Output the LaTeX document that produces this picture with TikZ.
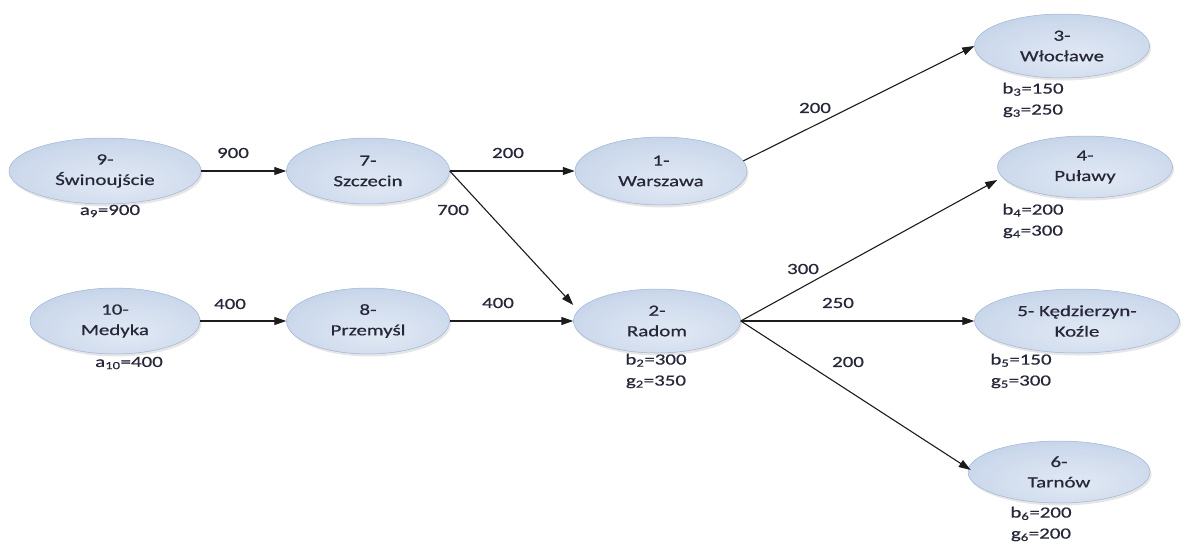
\documentclass[tikz,border=0pt]{standalone}
\usepackage{fontspec}
\setmainfont{Carlito}[FakeStretch=1.35,FakeBold=0.6]
\usetikzlibrary{arrows.meta,shapes.geometric,shadows}
\definecolor{ellA}{HTML}{E2E9F4}
\definecolor{ellB}{HTML}{CCD9EC}
\definecolor{ellC}{HTML}{AABFDD}
\definecolor{ellD}{HTML}{9FB5D4}
\definecolor{txt}{HTML}{26283A}
\definecolor{edgecol}{HTML}{1C1C1C}
\pgfdeclareradialshading{ellsh}{\pgfpoint{4bp}{-10bp}}{color(0bp)=(ellA); color(26bp)=(ellB); color(50bp)=(ellC); color(60bp)=(ellC)}
\begin{document}
\begin{tikzpicture}[x=1pt,y=-1pt,
  every node/.style={text=txt, font=\fontsize{15.5}{20.5}\selectfont},
  city/.style={ellipse, shading=ellsh, draw=ellD, line width=0.5pt, inner sep=0pt, align=center,
    drop shadow={opacity=0.2, shadow xshift=1.5pt, shadow yshift=-2.5pt}},
  flow/.style={draw=edgecol, line width=1.1pt, -{Triangle[length=12pt,width=8pt]}},
  val/.style={inner sep=1pt},
  info/.style={align=center, inner sep=0pt, font=\fontsize{15.5}{21}\selectfont}]
\useasboundingbox (0,0) rectangle (1186,544);
% cities
\node[city, minimum width=192pt, minimum height=66pt] (n9) at (105,171) {9-\\Świnoujście};
\node[city, minimum width=163pt, minimum height=66pt] (n7) at (368,171) {7-\\Szczecin};
\node[city, minimum width=170pt, minimum height=66pt] (n10) at (115,321) {10-\\Medyka};
\node[city, minimum width=163pt, minimum height=66pt] (n8) at (368,321) {8-\\Przemyśl};
\node[city, minimum width=172pt, minimum height=68pt] (n1) at (661,171) {1-\\Warszawa};
\node[city, minimum width=167pt, minimum height=64pt] (n2) at (657,321) {2-\\Radom};
\node[city, minimum width=175pt, minimum height=64pt] (n3) at (1062,46) {3-\\Włocławe};
\node[city, minimum width=175pt, minimum height=62pt] (n4) at (1085,167) {4-\\Puławy};
\node[city, minimum width=205pt, minimum height=64pt] (n5) at (1077,321) {5- Kędzierzyn-\\Koźle};
\node[city, minimum width=182pt, minimum height=62pt] (n6) at (1059,472) {6-\\Tarnów};
% info labels
\node[info] (i9) at (110,211) {a\textsubscript{9}=900};
\node[info] (i10) at (129,363) {a\textsubscript{10}=400};
\node[info] (i2) at (656,371) {b\textsubscript{2}=300\\g\textsubscript{2}=350};
\node[info] (i3) at (1033,100) {b\textsubscript{3}=150\\g\textsubscript{3}=250};
\node[info] (i4) at (1033,221) {b\textsubscript{4}=200\\g\textsubscript{4}=300};
\node[info] (i5) at (1021,371) {b\textsubscript{5}=150\\g\textsubscript{5}=300};
\node[info] (i6) at (1041,524) {b\textsubscript{6}=200\\g\textsubscript{6}=200};
% edges
\draw[flow] (n9.east) -- (n7.west);
\draw[flow] (n10.east) -- (n8.west);
\draw[flow] (n7.east) -- (n1.west);
\draw[flow] (n7.east) -- ([yshift=16pt]n2.west);
\draw[flow] (n8.east) -- (n2.west);
\draw[flow] (n1.7) -- (n3.west);
\draw[flow] (n2.east) -- ([yshift=-13pt]n4.west);
\draw[flow] (n2.east) -- (n5.west);
\draw[flow] (n2.east) -- ([xshift=3pt,yshift=2pt]n6.west);
% edge values
\node[val] (l97) at (233,153) {900};
\node[val] (l71) at (508,153) {200};
\node[val] (l72) at (453,210) {700};
\node[val] (l108) at (230,304) {400};
\node[val] (l82) at (498,303) {400};
\node[val] (l13) at (815,108) {200};
\node[val] (l24) at (803,269) {300};
\node[val] (l25) at (838,303) {250};
\node[val] (l26) at (848,362) {200};
\end{tikzpicture}
\end{document}
